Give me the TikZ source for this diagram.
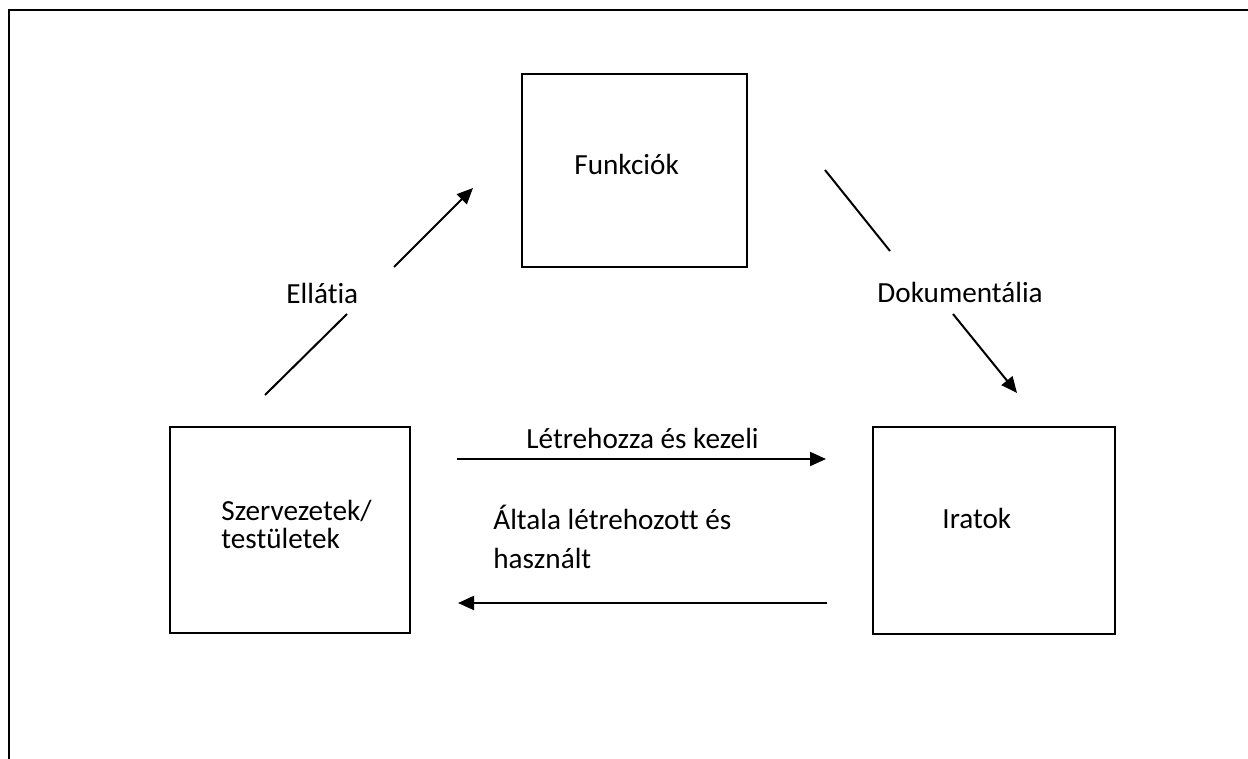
\documentclass[tikz,border=0pt]{standalone}
\usepackage{fontspec}
\setmainfont{Carlito}[Ligatures=NoCommon]
\usetikzlibrary{arrows.meta}

\tikzset{
  box/.style={draw, line width=1pt, inner sep=0pt},
  txt/.style={inner sep=0pt, anchor=base west, font=\fontsize{14.6pt}{14pt}\selectfont},
  arr/.style={line width=1pt, -{Triangle[length=8pt,width=7pt]}},
  ln/.style={line width=1pt}
}

\begin{document}
\begin{tikzpicture}[x=0.5pt, y=-0.5pt]
    \useasboundingbox (0,0) rectangle (1248,759);
    \draw[line width=1pt] (9,770) -- (9,10.3) -- (1260,10.3);
    % boxes, 1 unit = 1 px of the page
    \node[box, minimum width=112.5pt, minimum height=96.5pt] (funk) at (634.5,170.5) {};
    \node[box, minimum width=120pt, minimum height=103pt] (szerv) at (290,530) {};
    \node[box, minimum width=121pt, minimum height=103.5pt] (irat) at (994,530.5) {};
    \node[txt] (funklbl) at (574,175) {Funkciók};
    \node[txt] (szervlbl) at (221,520) {Szervezetek/};
    \node[txt] (testlbl) at (221,548) {testületek};
    \node[txt] (iratlbl) at (942,528) {Iratok};
    \coordinate (ellA) at (265,395); \coordinate (ellB) at (347,314);
    \coordinate (ellC) at (394,267); \coordinate (ellD) at (473,188);
    \coordinate (dokA) at (825,170); \coordinate (dokB) at (890,251);
    \coordinate (dokC) at (953,314); \coordinate (dokD) at (1017,393);
    \coordinate (letA) at (457,459); \coordinate (letB) at (826,459);
    \coordinate (altA) at (827,603); \coordinate (altB) at (458,603);
    \draw[ln] (ellA) -- (ellB); \draw[arr] (ellC) -- (ellD);
    \node[txt] (ellat) at (286,304) {Ellátia};
    \draw[ln] (dokA) -- (dokB); \draw[arr] (dokC) -- (dokD);
    \node[txt] (dokum) at (877,303) {Dokumentália};
    \draw[arr] (letA) -- (letB);
    \node[txt] (letre) at (526,448) {Létrehozza és kezeli};
    \node[txt] (altal) at (493,529) {Általa létrehozott és};
    \node[txt] (haszn) at (493,568) {használt};
    \draw[arr] (altA) -- (altB);
\end{tikzpicture}
\end{document}
